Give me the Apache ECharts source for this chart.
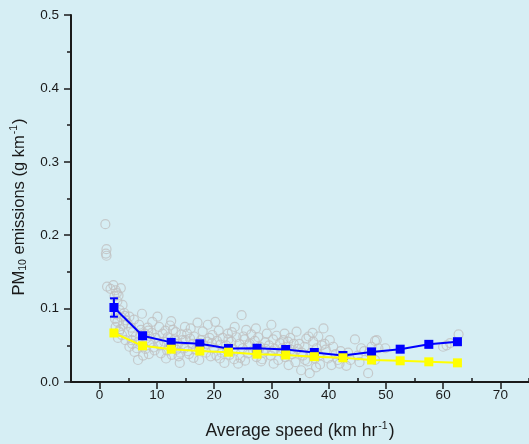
<!DOCTYPE html>
<html>
<head>
<meta charset="utf-8">
<script src="https://cdn.jsdelivr.net/npm/echarts@6/dist/echarts.min.js"></script>
<style>
  html, body { margin: 0; padding: 0; background: #d6eef4; }
  #chart { width: 529px; height: 444px; }
</style>
</head>
<body>
<div id="chart"></div>
<script>
// Speed bins (km/h) for the binned means
const speedBins = [2.5, 7.5, 12.5, 17.5, 22.5, 27.5, 32.5, 37.5, 42.5, 47.5, 52.5, 57.5, 62.5];
// Binned mean PM10 emissions (g/km), blue series
const bluePM10 = [0.1015, 0.063, 0.054, 0.052, 0.0456, 0.046, 0.0443, 0.0402, 0.0361, 0.041, 0.0447, 0.0513, 0.0549];
// Error bar half-widths for the blue series
const blueErr = [0.0125, 0, 0, 0, 0, 0, 0, 0, 0, 0, 0, 0, 0];
// Binned PM10 emissions (g/km), yellow series
const yellowPM10 = [0.0668, 0.0493, 0.0447, 0.0422, 0.0406, 0.0379, 0.0368, 0.0345, 0.033, 0.030, 0.0289, 0.0275, 0.0261];

// Individual trip measurements: [average speed, PM10 emissions]
const tripPoints = [
  [1.0,0.215],[1.2,0.181],[1.1,0.175],[1.2,0.172],[1.3,0.130],[2.4,0.132],[3.7,0.128],[2.8,0.125],[3.3,0.118],[1.9,0.127],[3.0,0.121],[2.6,0.117],
  [3.1,0.110],[4.0,0.105],[3.5,0.098],[4.3,0.094],[2.9,0.092],[3.8,0.088],[3.1,0.082],[4.6,0.084],[2.8,0.075],[3.4,0.0685],[4.1,0.078],[3.6,0.072],[4.5,0.057],[3.9,0.064],[3.2,0.060],[4.4,0.090],[2.7,0.086],
  [5.2,0.089],[4.9,0.080],[5.5,0.074],[5.2,0.048],[5.8,0.068],[6.1,0.041],[6.3,0.062],[6.0,0.085],[6.7,0.030],[7.4,0.093],[6.9,0.078],[7.2,0.071],[6.8,0.055],[7.5,0.050],[7.9,0.066],[8.1,0.059],[8.0,0.045],[8.4,0.074],[8.7,0.062],[9.2,0.082],[8.9,0.054],[9.4,0.047],[8.6,0.038],[10.1,0.089],[6.5,0.046],[7.6,0.036],[5.6,0.057],[7.1,0.064],[8.5,0.070],[9.1,0.067],[5.7,0.052],[9.8,0.060],[9.6,0.043],
  [10.7,0.039],[11.6,0.032],[12.8,0.071],[14.0,0.026],[10.4,0.075],[11.0,0.066],[11.3,0.055],[11.9,0.061],[12.2,0.048],[12.5,0.083],[13.1,0.058],[13.4,0.044],[13.7,0.052],[14.3,0.065],[10.6,0.050],[11.8,0.043],[12.6,0.037],[13.3,0.068],[14.1,0.040],[14.5,0.057],[10.2,0.053],[11.5,0.070],[12.9,0.050],[12.3,0.077],[13.8,0.035],
  [15.0,0.057],[15.9,0.073],[17.1,0.081],[17.4,0.030],[18.9,0.078],[14.8,0.046],[15.3,0.066],[15.6,0.038],[16.2,0.052],[16.5,0.062],[16.8,0.044],[17.7,0.057],[18.0,0.069],[18.3,0.049],[18.6,0.040],[19.2,0.060],[19.4,0.035],[14.9,0.075],[16.4,0.033],[17.5,0.053],[15.8,0.059],[17.3,0.047],[18.8,0.055],[15.4,0.042],
  [20.2,0.082],[21.0,0.032],[21.8,0.026],[23.6,0.075],[24.2,0.025],[24.8,0.091],[19.7,0.064],[20.0,0.046],[20.5,0.056],[20.8,0.070],[21.3,0.040],[21.5,0.060],[22.1,0.050],[22.4,0.066],[22.7,0.037],[23.0,0.055],[23.3,0.045],[23.9,0.061],[24.4,0.052],[20.4,0.036],[22.3,0.043],[23.1,0.068],[23.5,0.031],[21.1,0.051],[22.5,0.058],[19.6,0.053],
  [25.6,0.071],[28.2,0.028],[25.0,0.046],[25.3,0.058],[25.9,0.039],[26.2,0.052],[26.5,0.065],[26.8,0.043],[27.1,0.056],[27.4,0.034],[27.7,0.061],[28.0,0.048],[28.6,0.040],[28.9,0.054],[29.2,0.066],[24.6,0.033],[25.4,0.029],[27.3,0.073],[28.4,0.031],[26.0,0.050],[27.8,0.044],[25.1,0.062],[29.0,0.045],
  [30.0,0.078],[32.3,0.066],[33.0,0.023],[29.6,0.050],[29.9,0.036],[30.3,0.058],[30.6,0.045],[30.9,0.063],[31.2,0.030],[31.5,0.053],[31.8,0.041],[32.1,0.057],[32.4,0.034],[32.7,0.048],[33.3,0.060],[33.6,0.038],[33.9,0.052],[34.2,0.027],[34.4,0.0685],[30.4,0.025],[31.9,0.046],[33.4,0.044],[30.2,0.042],[32.9,0.055],
  [35.2,0.016],[36.1,0.059],[36.7,0.012],[39.1,0.073],[34.6,0.045],[34.9,0.052],[35.5,0.036],[35.8,0.048],[36.3,0.028],[37.0,0.040],[37.3,0.055],[37.6,0.032],[37.9,0.046],[38.2,0.062],[38.5,0.024],[38.8,0.050],[35.3,0.040],[36.5,0.062],[37.8,0.020],[38.3,0.036],[37.2,0.067],[35.9,0.030],
  [40.2,0.057],[40.5,0.023],[43.1,0.022],[39.5,0.044],[39.9,0.032],[40.8,0.048],[41.2,0.038],[41.6,0.030],[42.1,0.042],[42.6,0.034],[43.4,0.040],[43.8,0.030],[44.6,0.058],[39.3,0.052],[41.9,0.025],
  [45.1,0.036],[45.7,0.046],[46.2,0.042],[46.9,0.012],[47.1,0.040],[47.5,0.048],[48.1,0.056],[48.1,0.030],[48.4,0.057],[48.7,0.046],[49.9,0.046],[45.4,0.027],
  [60.6,0.050],[61.2,0.053],[62.7,0.065],[60.0,0.048]
];

// Axis tick values
const xMajorTicks = [0, 10, 20, 30, 40, 50, 60, 70];
const xMinorTicks = [5, 15, 25, 35, 45, 55, 65, 75];

const FONT = '"Liberation Sans", Arial, Helvetica, sans-serif';
const INK = '#1a1a1a';
const BLUE = '#0000ff';
const YELLOW = '#ffff00';

const chart = echarts.init(document.getElementById('chart'), null, { renderer: 'canvas' });

const errorData = speedBins
  .map((s, i) => [s, bluePM10[i], blueErr[i]])
  .filter(d => d[2] > 0);

const option = {
  backgroundColor: '#d6eef4',
  animation: false,
  grid: { left: 71, top: 15, width: 458, bottom: 62, containLabel: false, outerBoundsMode: 'none' },
  xAxis: [
    {
      type: 'value', min: -5, max: 75,
      axisLine: { show: true, onZero: false, lineStyle: { color: INK, width: 2 } },
      axisTick: { show: true, inside: false, length: 7, lineStyle: { color: INK, width: 1.5 }, customValues: xMajorTicks },
      axisLabel: { customValues: xMajorTicks, margin: 6, color: INK, fontSize: 13.5, fontFamily: FONT },
      splitLine: { show: false },
      name: 'Average speed (km hr{sup|-1}{a|)}',
      nameLocation: 'middle', nameGap: 39,
      nameTextStyle: {
        color: INK, fontSize: 17.5, fontFamily: FONT, lineHeight: 20,
        rich: {
          a: { color: INK, fontSize: 17.5, fontFamily: FONT, lineHeight: 20 },
          sup: { color: INK, fontSize: 10.5, fontFamily: FONT, lineHeight: 10, verticalAlign: 'top', padding: [0, 1, 0, 1] }
        }
      }
    },
    {
      type: 'value', min: -5, max: 75,
      axisLine: { show: false },
      axisTick: { show: true, inside: false, length: 4, lineStyle: { color: INK, width: 1.5 }, customValues: xMinorTicks },
      axisLabel: { show: false },
      splitLine: { show: false }
    }
  ],
  yAxis: {
    type: 'value', min: 0, max: 0.5, interval: 0.1,
    axisLine: { show: true, onZero: false, lineStyle: { color: INK, width: 2 } },
    axisTick: { show: true, inside: false, length: 7, lineStyle: { color: INK, width: 1.5 } },
    minorTick: { show: true, splitNumber: 2, length: 4, lineStyle: { color: INK, width: 1.5 } },
    axisLabel: { margin: 12, color: INK, fontSize: 13.5, fontFamily: FONT, formatter: v => v.toFixed(1) },
    splitLine: { show: false },
    name: '{a|PM}{sub|10}{a| emissions (g km}{sup|-1}{a|)}',
    nameLocation: 'middle', nameGap: 42, nameRotate: 90,
    nameTextStyle: {
      color: INK, fontSize: 16.5, fontFamily: FONT, lineHeight: 20,
      padding: [0, 17, 0, 0],
      rich: {
        a: { color: INK, fontSize: 16.5, fontFamily: FONT, lineHeight: 20 },
        sub: { color: INK, fontSize: 10.5, fontFamily: FONT, lineHeight: 10, verticalAlign: 'bottom' },
        sup: { color: INK, fontSize: 10.5, fontFamily: FONT, lineHeight: 10, verticalAlign: 'top', padding: [0, 1, 0, 1] }
      }
    }
  },
  series: [
    {
      name: 'Trips', type: 'scatter', xAxisIndex: 0,
      data: tripPoints,
      symbol: 'circle', symbolSize: 9,
      itemStyle: { color: 'rgba(0,0,0,0)', borderColor: '#c0c0c0', borderWidth: 1.2 },
      emphasis: { disabled: true }, silent: true, z: 1
    },
    {
      name: 'Error', type: 'custom', xAxisIndex: 0,
      data: errorData, z: 2, silent: true,
      renderItem: (params, api) => {
        const x = api.value(0), y = api.value(1), e = api.value(2);
        const top = api.coord([x, y + e]);
        const bot = api.coord([x, y - e]);
        const hw = 4;
        const st = { stroke: BLUE, lineWidth: 2 };
        return {
          type: 'group',
          children: [
            { type: 'line', shape: { x1: top[0], y1: top[1], x2: bot[0], y2: bot[1] }, style: st },
            { type: 'line', shape: { x1: top[0] - hw, y1: top[1], x2: top[0] + hw, y2: top[1] }, style: st },
            { type: 'line', shape: { x1: bot[0] - hw, y1: bot[1], x2: bot[0] + hw, y2: bot[1] }, style: st }
          ]
        };
      }
    },
    {
      name: 'Mean', type: 'line', xAxisIndex: 0,
      data: speedBins.map((s, i) => [s, bluePM10[i]]),
      symbol: 'rect', symbolSize: 9, showSymbol: true,
      lineStyle: { color: BLUE, width: 2 },
      itemStyle: { color: BLUE, borderWidth: 0 },
      emphasis: { disabled: true }, silent: true, z: 3
    },
    {
      name: 'Median', type: 'line', xAxisIndex: 0,
      data: speedBins.map((s, i) => [s, yellowPM10[i]]),
      symbol: 'rect', symbolSize: 9, showSymbol: true,
      lineStyle: { color: YELLOW, width: 2 },
      itemStyle: { color: YELLOW, borderWidth: 0 },
      emphasis: { disabled: true }, silent: true, z: 4
    }
  ]
};

chart.setOption(option);
</script>
</body>
</html>
